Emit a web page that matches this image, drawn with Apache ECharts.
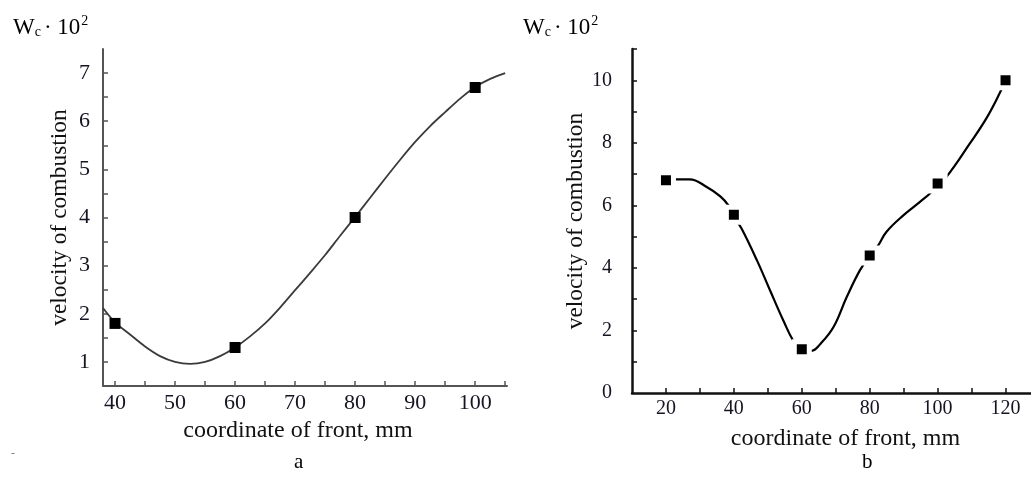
<!DOCTYPE html>
<html>
<head>
<meta charset="utf-8">
<script src="https://cdn.jsdelivr.net/npm/echarts@6/dist/echarts.min.js"></script>
<style>
  html, body { margin: 0; padding: 0; background: #fff; }
  #chart { width: 1031px; height: 483px; }
</style>
</head>
<body>
<div id="chart"></div>
<script>
const markA = [[40, 1.8], [60, 1.3], [80, 4.0], [100, 6.7]];
const curveA = [
  [38, 2.12], [40, 1.82], [42.5, 1.57], [45, 1.32], [47.5, 1.12], [50, 1.0], [52.5, 0.96],
  [55, 1.0], [57.5, 1.12], [60, 1.3], [62.5, 1.53], [65, 1.8], [67.5, 2.13], [70, 2.49],
  [72.5, 2.85], [75, 3.22], [77.5, 3.62], [80, 4.01], [82.5, 4.41], [85, 4.81], [87.5, 5.2],
  [90, 5.57], [92.5, 5.9], [95, 6.19], [97.5, 6.47], [100, 6.71], [102.5, 6.88], [105, 7.0]
];
const xLabelsA = [40, 50, 60, 70, 80, 90, 100];
const xTicksA = [40, 45, 50, 55, 60, 65, 70, 75, 80, 85, 90, 95, 100, 105];
const yLabelsA = [1, 2, 3, 4, 5, 6, 7];
const yTicksA = [1, 1.5, 2, 2.5, 3, 3.5, 4, 4.5, 5, 5.5, 6, 6.5, 7];

// panel b
const markB = [[20, 6.8], [40, 5.7], [60, 1.4], [80, 4.4], [100, 6.7], [120, 10.0]];
const curveB = [
  [20, 6.83], [23, 6.83], [27, 6.83], [32, 6.59], [36, 6.29], [38.4, 6.0], [40, 5.65],
  [42.3, 5.25], [46.8, 4.24], [50.7, 3.27], [54.6, 2.31], [57.5, 1.67], [60, 1.35],
  [62.9, 1.35], [65.4, 1.56], [69.3, 2.1], [73.2, 3.06], [77.1, 3.92], [80, 4.37],
  [82.5, 4.72], [84.9, 5.15], [89.9, 5.68], [94.8, 6.11], [98.2, 6.43], [100, 6.68],
  [102.6, 6.91], [109.5, 7.98], [114.4, 8.79], [118.3, 9.59], [120, 10.0]
];
const xLabelsB = [20, 40, 60, 80, 100, 120];
const xTicksB = [20, 30, 40, 50, 60, 70, 80, 90, 100, 110, 120];
const yLabelsB = [0, 2, 4, 6, 8, 10];
const yTicksB = [1, 2, 3, 4, 5, 6, 7, 8, 9, 10, 11];

const serif = '"Liberation Serif", "DejaVu Serif", serif';
const labelColor = '#141422';

function xAxis(idx, min, max, labels, ticks, color, width, size, gap, pad) {
  return {
    type: 'value', gridIndex: idx, min: min, max: max,
    name: 'coordinate of front, mm', nameLocation: 'middle', nameGap: gap,
    nameTextStyle: { fontFamily: serif, fontSize: 24, color: '#111', padding: pad },
    axisLine: { onZero: false, lineStyle: { color: color, width: width } },
    axisTick: { inside: true, length: 5, customValues: ticks, lineStyle: { color: color, width: 1.5 } },
    axisLabel: { customValues: labels, margin: 6, fontFamily: serif, fontSize: size, color: labelColor },
    splitLine: { show: false }
  };
}

function yAxis(idx, min, max, labels, ticks, color, width, size, margin, gap) {
  return {
    type: 'value', gridIndex: idx, min: min, max: max,
    name: 'velocity of combustion', nameLocation: 'middle', nameGap: gap,
    nameTextStyle: { fontFamily: serif, fontSize: 23.5, color: '#111' },
    axisLine: { show: true, onZero: false, lineStyle: { color: color, width: width } },
    axisTick: { show: true, inside: true, length: 5, customValues: ticks, lineStyle: { color: color, width: 1.5 } },
    axisLabel: { customValues: labels, margin: margin, fontFamily: serif, fontSize: size, color: labelColor },
    splitLine: { show: false }
  };
}

const titleText = (x) => ({
  type: 'text', left: x, top: 14,
  style: {
    text: '{w|W}{s|c}{w|· 10}{p|2}',
    fontFamily: serif, fontSize: 23, fill: '#000',
    rich: {
      w: { fontFamily: serif, fontSize: 23, fill: '#000', verticalAlign: 'bottom' },
      s: { fontFamily: serif, fontSize: 14, fill: '#000', padding: [0, 3, 0, 0], verticalAlign: 'bottom' },
      p: { fontFamily: serif, fontSize: 14, fill: '#000', padding: [0, 0, 11, 1], verticalAlign: 'bottom' }
    }
  }
});

const chart = echarts.init(document.getElementById('chart'));
chart.setOption({
  animation: false,
  backgroundColor: '#fff',
  grid: [
    { left: 103, top: 49, width: 404, height: 337 },
    { left: 632, top: 49, width: 399, height: 344 }
  ],
  xAxis: [
    xAxis(0, 38, 105.3, xLabelsA, xTicksA, '#555', 2, 22, 28, [0, 14, 0, 0]),
    xAxis(1, 10, 127.5, xLabelsB, xTicksB, '#111', 2.5, 20, 34, [0, 0, 0, 28])
  ],
  yAxis: [
    yAxis(0, 0.5, 7.5, yLabelsA, yTicksA, '#555', 2, 22, 13, 31),
    yAxis(1, 0, 11, yLabelsB, yTicksB, '#111', 2.5, 20, 20, 32)
  ],
  graphic: [
    titleText(13),
    titleText(523),
    { type: 'text', left: 294, top: 452, style: { text: 'a', fontFamily: serif, fontSize: 21, fill: '#000' } },
    { type: 'text', left: 862, top: 452, style: { text: 'b', fontFamily: serif, fontSize: 21, fill: '#000' } },
    { type: 'text', left: 11, top: 448, style: { text: '-', fontFamily: serif, fontSize: 12, fill: '#777' } }
  ],
  series: [
    {
      type: 'line', xAxisIndex: 0, yAxisIndex: 0, data: curveA, smooth: 0.3,
      showSymbol: false, lineStyle: { color: '#3a3a3a', width: 1.8 }, z: 2
    },
    {
      type: 'scatter', xAxisIndex: 0, yAxisIndex: 0, data: markA,
      symbol: 'rect', symbolSize: 11, itemStyle: { color: '#000', opacity: 1 }, z: 3
    },
    {
      type: 'line', xAxisIndex: 1, yAxisIndex: 1, data: curveB, smooth: 0.4,
      showSymbol: false, lineStyle: { color: '#000', width: 2.2 }, z: 2
    },
    {
      type: 'scatter', xAxisIndex: 1, yAxisIndex: 1, data: markB,
      symbol: 'rect', symbolSize: 15, itemStyle: { color: '#000', borderColor: '#fff', borderWidth: 5, opacity: 1 }, z: 3
    }
  ]
});
</script>
</body>
</html>
